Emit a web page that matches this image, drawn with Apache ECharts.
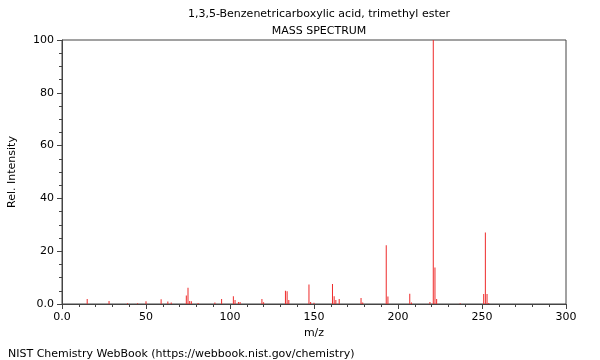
<!DOCTYPE html>
<html><head><meta charset="utf-8">
<script src="https://cdn.jsdelivr.net/npm/echarts@6/dist/echarts.min.js"></script>
<style>html,body{margin:0;padding:0;background:#fff}#c{width:600px;height:360px}</style>
</head><body><div id="c"></div>
<script>
const titleLines = ["1,3,5-Benzenetricarboxylic acid, trimethyl ester", "MASS SPECTRUM"];
const xAxisName = "m/z";
const yAxisName = "Rel. Intensity";
const footer = "NIST Chemistry WebBook (https://webbook.nist.gov/chemistry)";
const mz = [15, 28, 39, 45, 50, 59, 63, 65, 74, 75, 76, 77, 81, 91, 95, 102, 103, 105, 106, 119, 120, 133, 134, 135, 147, 148, 150, 161, 162, 163, 165, 178, 179, 193, 194, 207, 208, 219, 221, 222, 223, 237, 251, 252, 253, 254];
const intensity = [1.9, 1.1, 0.3, 0.3, 1.0, 1.8, 0.9, 0.6, 3.2, 6.2, 1.1, 1.0, 0.4, 0.6, 1.9, 2.9, 1.5, 0.8, 0.8, 1.9, 0.7, 5.0, 4.8, 1.5, 7.4, 0.8, 0.5, 7.6, 2.9, 1.5, 1.9, 2.3, 0.6, 22.3, 2.8, 3.9, 0.6, 0.8, 100, 13.8, 1.9, 0.3, 3.8, 27.1, 3.8, 0.4];

const font = "DejaVu Sans";
const chart = echarts.init(document.getElementById('c'), null, {renderer: 'canvas'});
chart.setOption({
  animation: false,
  textStyle: {fontFamily: font, color: '#000'},
  title: [
    {text: titleLines[0], left: 314, top: 4, textAlign: 'center',
     textStyle: {fontFamily: font, fontSize: 11, fontWeight: 'normal', color: '#000'}},
    {text: titleLines[1], left: 314, top: 21, textAlign: 'center',
     textStyle: {fontFamily: font, fontSize: 11, fontWeight: 'normal', color: '#000'}},
    {text: footer, left: 3, top: 344,
     textStyle: {fontFamily: font, fontSize: 11, fontWeight: 'normal', color: '#000'}}
  ],
  grid: {left: 62, right: 34, top: 40, bottom: 56, show: true, borderColor: '#444', borderWidth: 1,
         containLabel: false, outerBoundsMode: 'none'},
  xAxis: {
    type: 'value', min: 0, max: 300, interval: 50,
    name: xAxisName, nameLocation: 'middle', nameGap: 24,
    nameTextStyle: {fontFamily: font, fontSize: 11, color: '#000'},
    axisLine: {show: true, lineStyle: {color: '#444'}},
    axisTick: {show: true, length: 5, lineStyle: {color: '#444'}},
    minorTick: {show: true, splitNumber: 5, length: 3, lineStyle: {color: '#444'}},
    splitLine: {show: false},
    axisLabel: {fontFamily: font, fontSize: 11, color: '#000', margin: 8,
      formatter: v => v === 0 ? '0.0' : String(v)}
  },
  yAxis: {
    type: 'value', min: 0, max: 100, interval: 20,
    name: yAxisName, nameLocation: 'middle', nameGap: 44, nameRotate: 90,
    nameTextStyle: {fontFamily: font, fontSize: 11, color: '#000'},
    axisLine: {show: true, lineStyle: {color: '#444'}},
    axisTick: {show: true, length: 5, lineStyle: {color: '#444'}},
    minorTick: {show: true, splitNumber: 4, length: 3, lineStyle: {color: '#444'}},
    splitLine: {show: false},
    axisLabel: {fontFamily: font, fontSize: 11, color: '#000', margin: 8,
      formatter: v => v === 0 ? '0.0' : String(v)}
  },
  series: [{
    type: 'bar',
    barWidth: 1,
    itemStyle: {color: '#ee2a2a'},
    data: mz.map((m, i) => [m, intensity[i]])
  }]
});
</script></body></html>
